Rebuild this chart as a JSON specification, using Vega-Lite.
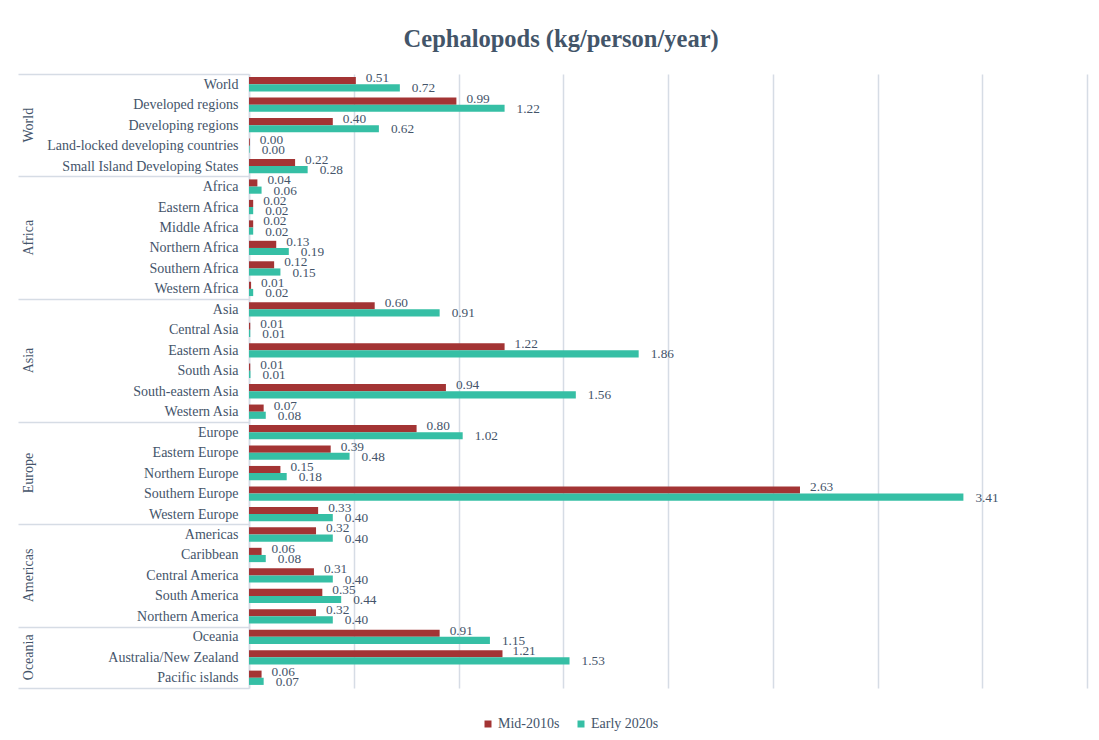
{
  "$schema": "https://vega.github.io/schema/vega-lite/v6.json",
  "width": 838,
  "height": 614,
  "padding": {"left": 17, "top": 26, "right": 13, "bottom": 8},
  "title": {"text": "Cephalopods (kg/person/year)", "font": "Liberation Serif", "fontSize": 24.5, "fontWeight": "bold", "color": "#435569", "offset": 15, "anchor": "middle", "frame": "bounds", "dx": 9},
  "data": {"values": [
    {"group": "World", "region": "World", "series": "Mid-2010s", "value": 0.51},
    {"group": "World", "region": "World", "series": "Early 2020s", "value": 0.72},
    {"group": "World", "region": "Developed regions", "series": "Mid-2010s", "value": 0.99},
    {"group": "World", "region": "Developed regions", "series": "Early 2020s", "value": 1.22},
    {"group": "World", "region": "Developing regions", "series": "Mid-2010s", "value": 0.40},
    {"group": "World", "region": "Developing regions", "series": "Early 2020s", "value": 0.62},
    {"group": "World", "region": "Land-locked developing countries", "series": "Mid-2010s", "value": 0.004},
    {"group": "World", "region": "Land-locked developing countries", "series": "Early 2020s", "value": 0.003},
    {"group": "World", "region": "Small Island Developing States", "series": "Mid-2010s", "value": 0.22},
    {"group": "World", "region": "Small Island Developing States", "series": "Early 2020s", "value": 0.28},
    {"group": "Africa", "region": "Africa", "series": "Mid-2010s", "value": 0.04},
    {"group": "Africa", "region": "Africa", "series": "Early 2020s", "value": 0.06},
    {"group": "Africa", "region": "Eastern Africa", "series": "Mid-2010s", "value": 0.02},
    {"group": "Africa", "region": "Eastern Africa", "series": "Early 2020s", "value": 0.02},
    {"group": "Africa", "region": "Middle Africa", "series": "Mid-2010s", "value": 0.02},
    {"group": "Africa", "region": "Middle Africa", "series": "Early 2020s", "value": 0.02},
    {"group": "Africa", "region": "Northern Africa", "series": "Mid-2010s", "value": 0.13},
    {"group": "Africa", "region": "Northern Africa", "series": "Early 2020s", "value": 0.19},
    {"group": "Africa", "region": "Southern Africa", "series": "Mid-2010s", "value": 0.12},
    {"group": "Africa", "region": "Southern Africa", "series": "Early 2020s", "value": 0.15},
    {"group": "Africa", "region": "Western Africa", "series": "Mid-2010s", "value": 0.01},
    {"group": "Africa", "region": "Western Africa", "series": "Early 2020s", "value": 0.02},
    {"group": "Asia", "region": "Asia", "series": "Mid-2010s", "value": 0.60},
    {"group": "Asia", "region": "Asia", "series": "Early 2020s", "value": 0.91},
    {"group": "Asia", "region": "Central Asia", "series": "Mid-2010s", "value": 0.006},
    {"group": "Asia", "region": "Central Asia", "series": "Early 2020s", "value": 0.006},
    {"group": "Asia", "region": "Eastern Asia", "series": "Mid-2010s", "value": 1.22},
    {"group": "Asia", "region": "Eastern Asia", "series": "Early 2020s", "value": 1.86},
    {"group": "Asia", "region": "South Asia", "series": "Mid-2010s", "value": 0.006},
    {"group": "Asia", "region": "South Asia", "series": "Early 2020s", "value": 0.007},
    {"group": "Asia", "region": "South-eastern Asia", "series": "Mid-2010s", "value": 0.94},
    {"group": "Asia", "region": "South-eastern Asia", "series": "Early 2020s", "value": 1.56},
    {"group": "Asia", "region": "Western Asia", "series": "Mid-2010s", "value": 0.07},
    {"group": "Asia", "region": "Western Asia", "series": "Early 2020s", "value": 0.08},
    {"group": "Europe", "region": "Europe", "series": "Mid-2010s", "value": 0.80},
    {"group": "Europe", "region": "Europe", "series": "Early 2020s", "value": 1.02},
    {"group": "Europe", "region": "Eastern Europe", "series": "Mid-2010s", "value": 0.39},
    {"group": "Europe", "region": "Eastern Europe", "series": "Early 2020s", "value": 0.48},
    {"group": "Europe", "region": "Northern Europe", "series": "Mid-2010s", "value": 0.15},
    {"group": "Europe", "region": "Northern Europe", "series": "Early 2020s", "value": 0.18},
    {"group": "Europe", "region": "Southern Europe", "series": "Mid-2010s", "value": 2.63},
    {"group": "Europe", "region": "Southern Europe", "series": "Early 2020s", "value": 3.41},
    {"group": "Europe", "region": "Western Europe", "series": "Mid-2010s", "value": 0.33},
    {"group": "Europe", "region": "Western Europe", "series": "Early 2020s", "value": 0.40},
    {"group": "Americas", "region": "Americas", "series": "Mid-2010s", "value": 0.32},
    {"group": "Americas", "region": "Americas", "series": "Early 2020s", "value": 0.40},
    {"group": "Americas", "region": "Caribbean", "series": "Mid-2010s", "value": 0.06},
    {"group": "Americas", "region": "Caribbean", "series": "Early 2020s", "value": 0.08},
    {"group": "Americas", "region": "Central America", "series": "Mid-2010s", "value": 0.31},
    {"group": "Americas", "region": "Central America", "series": "Early 2020s", "value": 0.40},
    {"group": "Americas", "region": "South America", "series": "Mid-2010s", "value": 0.35},
    {"group": "Americas", "region": "South America", "series": "Early 2020s", "value": 0.44},
    {"group": "Americas", "region": "Northern America", "series": "Mid-2010s", "value": 0.32},
    {"group": "Americas", "region": "Northern America", "series": "Early 2020s", "value": 0.40},
    {"group": "Oceania", "region": "Oceania", "series": "Mid-2010s", "value": 0.91},
    {"group": "Oceania", "region": "Oceania", "series": "Early 2020s", "value": 1.15},
    {"group": "Oceania", "region": "Australia/New Zealand", "series": "Mid-2010s", "value": 1.21},
    {"group": "Oceania", "region": "Australia/New Zealand", "series": "Early 2020s", "value": 1.53},
    {"group": "Oceania", "region": "Pacific islands", "series": "Mid-2010s", "value": 0.06},
    {"group": "Oceania", "region": "Pacific islands", "series": "Early 2020s", "value": 0.07}
  ]},
  "encoding": {
    "x": {
      "field": "value", "type": "quantitative",
      "scale": {"domain": [0, 4], "nice": false},
      "axis": {"title": null, "labels": false, "ticks": false, "domain": false, "grid": true, "values": [0, 0.5, 1, 1.5, 2, 2.5, 3, 3.5, 4], "gridColor": "#d6dce5", "gridWidth": 1.5}
    },
    "yOffset": {"field": "series", "type": "nominal", "sort": ["Mid-2010s", "Early 2020s"], "scale": {"paddingInner": 0, "paddingOuter": 0.43}}
  },
  "layer": [
    {
      "mark": {"type": "bar"},
      "encoding": {
        "y": {
          "field": "region", "type": "nominal", "sort": null,
          "scale": {"paddingInner": 0, "paddingOuter": 0},
          "axis": {
            "title": null,
            "orient": "left",
            "tickBand": "extent",
            "tickSize": 231,
            "tickColor": "#d6dce5",
            "tickWidth": 1.5,
            "tickOpacity": {"condition": {"test": "datum.value == null || indexof(['Small Island Developing States','Western Africa','Western Asia','Western Europe','Northern America','Pacific islands'], datum.value) >= 0", "value": 1}, "value": 0},
            "labelPadding": -220,
            "labelLimit": 300,
            "domainColor": "#d6dce5",
            "domainWidth": 1.5,
            "labelFont": "Liberation Serif",
            "labelFontSize": 14,
            "labelColor": "#44546a"
          }
        },
        "color": {
          "field": "series", "type": "nominal",
          "scale": {"domain": ["Mid-2010s", "Early 2020s"], "range": ["#a33434", "#36bfa5"]},
          "legend": {"title": null, "orient": "none", "direction": "horizontal", "legendX": 232, "legendY": 643, "symbolType": "square", "symbolSize": 49, "symbolStrokeWidth": 0, "labelFont": "Liberation Serif", "labelFontSize": 14, "labelColor": "#44546a", "labelOffset": 3, "columnPadding": 14}
        }
      }
    },
    {
      "transform": [{"filter": "datum.series == 'Early 2020s'"}],
      "mark": {"type": "text", "align": "left", "baseline": "middle", "dx": 12, "dy": 0.5, "font": "Liberation Serif", "fontSize": 13.3, "color": "#44546a"},
      "encoding": {
        "y": {
          "field": "region", "type": "nominal", "sort": null,
          "axis": {
            "title": null,
            "orient": "left",
            "ticks": false,
            "tickSize": 0,
            "domain": false,
            "labelAngle": -90,
            "labelAlign": "center",
            "labelBaseline": "middle",
            "labelPadding": 221,
            "labelOffset": {"condition": {"test": "datum.value == 'Middle Africa' || datum.value == 'Eastern Asia'", "value": 10.23}, "value": 0},
            "labelExpr": "datum.value == 'Developing regions' ? 'World' : datum.value == 'Middle Africa' ? 'Africa' : datum.value == 'Eastern Asia' ? 'Asia' : datum.value == 'Northern Europe' ? 'Europe' : datum.value == 'Central America' ? 'Americas' : datum.value == 'Australia/New Zealand' ? 'Oceania' : ''",
            "labelOverlap": false,
            "labelFont": "Liberation Serif",
            "labelFontSize": 14,
            "labelColor": "#44546a"
          }
        },
        "text": {"field": "value", "type": "quantitative", "format": ".2f"}
      }
    },
    {
      "transform": [{"filter": "datum.series == 'Mid-2010s'"}],
      "mark": {"type": "text", "align": "left", "baseline": "middle", "dx": 10, "dy": -2.5, "font": "Liberation Serif", "fontSize": 13.3, "color": "#44546a"},
      "encoding": {
        "y": {"field": "region", "type": "nominal", "sort": null, "axis": null},
        "text": {"field": "value", "type": "quantitative", "format": ".2f"}
      }
    }
  ],
  "resolve": {"axis": {"y": "independent"}},
  "config": {"view": {"stroke": null}, "background": "#ffffff"}
}
